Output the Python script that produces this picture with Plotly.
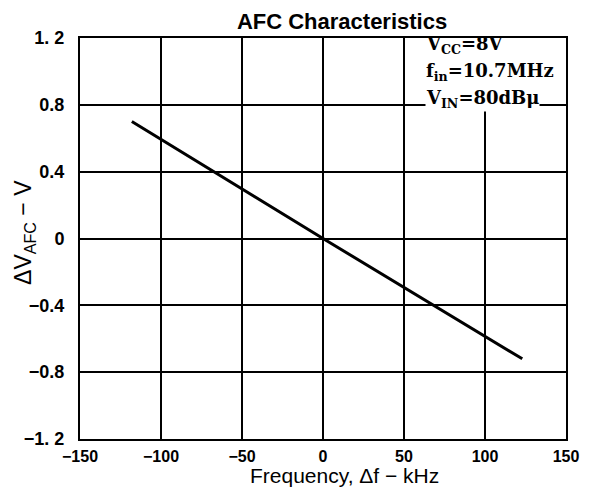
import plotly.graph_objects as go

# AFC characteristic
freq_khz = [-118, 0, 123]
dv_afc = [0.70, 0.0, -0.72]

x_ticks = [-150, -100, -50, 0, 50, 100, 150]
x_ticklabels = ["\u2212150", "\u2212100", "\u221250", "0", "50", "100", "150"]
y_ticks = [1.2, 0.8, 0.4, 0, -0.4, -0.8, -1.2]
y_ticklabels = ["1. 2", "0.8", "0.4", "0", "\u22120.4", "\u22120.8", "\u22121. 2"]

cond_labels = ["V<sub>CC</sub>=8V", "f<sub>in</sub>=10.7MHz", "V<sub>IN</sub>=80dB\u03bc"]
cond_y = [1.16, 0.995, 0.836]

fig = go.Figure()
fig.add_trace(go.Scatter(
    x=freq_khz, y=dv_afc, mode="lines",
    line=dict(color="black", width=3),
    showlegend=False,
))

# the test conditions sit in a blank corner of the grid
fig.add_shape(type="rect", xref="x", yref="y", x0=51, x1=149, y0=0.87, y1=1.19,
              fillcolor="white", line=dict(width=0), layer="above")

for txt, yy in zip(cond_labels, cond_y):
    fig.add_annotation(
        x=63, y=yy, xref="x", yref="y", text=txt, showarrow=False,
        xanchor="left", yanchor="middle", borderpad=0,
        font=dict(family="DejaVu Serif", size=18, color="black", weight="bold"),
        bgcolor="white" if "IN" in txt else None,
    )

# axis titles placed as annotations so they can sit off-centre like the original
fig.add_annotation(
    x=0.544, y=-0.09, xref="paper", yref="paper", showarrow=False,
    text="Frequency, \u0394f \u2212 kHz", xanchor="center", yanchor="middle",
    borderpad=0,
    font=dict(family="Liberation Sans", size=21, color="black"),
)
fig.add_annotation(
    x=-0.113, y=0.514, xref="paper", yref="paper", showarrow=False,
    text="\u0394V<sub>AFC</sub> \u2212 V", textangle=-90,
    xanchor="center", yanchor="middle",
    font=dict(family="Liberation Sans", size=23, color="black"),
)

# page body adds an 8px margin, so the figure is sized to fit the window
fig.update_layout(
    width=583, height=480,
    paper_bgcolor="white", plot_bgcolor="white",
    margin=dict(l=72, r=15, t=30, b=49),
    title=dict(
        text="<b>AFC Characteristics</b>",
        xref="container", x=0.573, xanchor="center",
        yref="container", y=0.972, yanchor="middle",
        font=dict(family="Liberation Sans", size=22, color="black"),
    ),
    font=dict(family="Liberation Sans", color="black"),
)

fig.update_xaxes(
    range=[-150, 150], tickvals=x_ticks, ticktext=x_ticklabels,
    tickfont=dict(size=16, weight="bold"),
    showgrid=True, gridcolor="black", gridwidth=1.5,
    showline=True, linecolor="black", linewidth=2, mirror=True,
    zeroline=False, ticks="", ticklabelstandoff=2,
)
fig.update_yaxes(
    range=[-1.2, 1.2], tickvals=y_ticks, ticktext=y_ticklabels,
    tickfont=dict(size=18, weight="bold"),
    showgrid=True, gridcolor="black", gridwidth=1.5,
    showline=True, linecolor="black", linewidth=2, mirror=True,
    zeroline=False, ticks="", ticklabelstandoff=10,
)

fig.write_html("out.html")
